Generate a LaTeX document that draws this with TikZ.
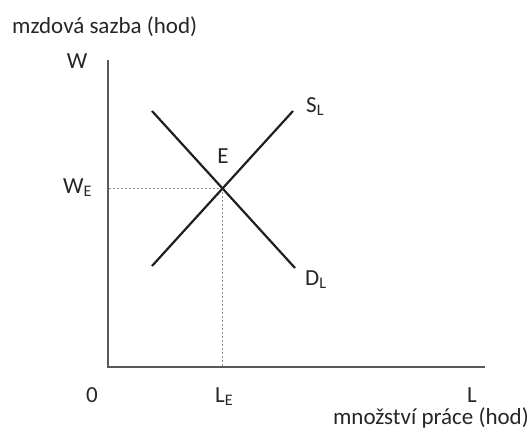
\documentclass[tikz,border=0pt]{standalone}
\usepackage{fontspec}
\setmainfont{Carlito}
\usetikzlibrary{positioning}

\begin{document}
\begin{tikzpicture}[
    x=1pt, y=-1pt,
    axis/.style={draw=black!65, line width=1.4pt},
    curve/.style={draw=black!88, line width=2.2pt},
    guide/.style={draw=black!45, line width=0.8pt, dash pattern=on 2pt off 2pt},
    lbl/.style={inner sep=0pt, font=\fontsize{23}{27}\selectfont, text=black!85}
]
\useasboundingbox (0,0) rectangle (530,432);
\coordinate (O) at (108,367);
\coordinate (ytop) at (108,60);
\coordinate (xend) at (485,367);
\coordinate (s1) at (152,266);
\coordinate (s2) at (293,111);
\coordinate (d1) at (152,111);
\coordinate (d2) at (295,268);
\coordinate (E) at (intersection of s1--s2 and d1--d2);
% guides to the axes
\draw[guide] (E) -- (E -| O);
\draw[guide] (E) -- (E |- O);
% axes
\draw[axis] (ytop) -- (O) -- (xend);
% supply and demand
\draw[curve] (s1) -- (s2);
\draw[curve] (d1) -- (d2);
\node[lbl, anchor=base west] (ylab) at (12,33) {mzdová sazba (hod)};
\node[lbl, anchor=base] (w) at (77,68) {W};
\node[lbl, anchor=base west] (we) at (63,193) {W\textsubscript{E}};
\node[lbl, anchor=base] (elab) at (223,163) {E};
\node[lbl, anchor=base west] (sl) at (306,112) {S\textsubscript{L}};
\node[lbl, anchor=base west] (dl) at (305,285) {D\textsubscript{L}};
\node[lbl, anchor=base] (zero) at (92,402) {0};
\node[lbl, anchor=base west] (le) at (215,402) {L\textsubscript{E}};
\node[lbl, anchor=base] (l) at (472,402) {L};
\node[lbl, anchor=base east] (xlab) at (529,424) {množství práce (hod)};
\end{tikzpicture}
\end{document}
